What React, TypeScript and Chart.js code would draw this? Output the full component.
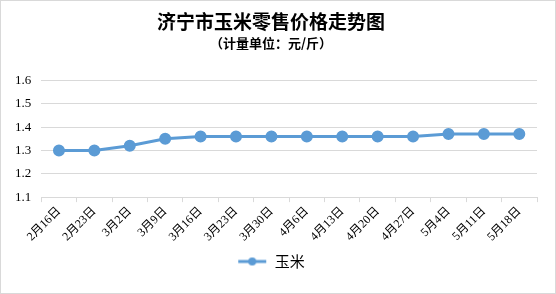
import React, { useEffect, useRef } from "react";
import { Chart, registerables } from "chart.js";

Chart.register(...registerables);

const categories = ["2月16日", "2月23日", "3月2日", "3月9日", "3月16日", "3月23日", "3月30日", "4月6日", "4月13日", "4月20日", "4月27日", "5月4日", "5月11日", "5月18日"];
const cornPrices = [1.30, 1.30, 1.32, 1.35, 1.36, 1.36, 1.36, 1.36, 1.36, 1.36, 1.36, 1.37, 1.37, 1.37];
const seriesName = "玉米";
const titleText = "济宁市玉米零售价格走势图";
const subtitleText = "（计量单位：元/斤）";

const LINE = "#5b9bd5";

function legendIcon(): HTMLCanvasElement {
  const c = document.createElement("canvas");
  c.width = 30;
  c.height = 10;
  const ctx = c.getContext("2d")!;
  ctx.strokeStyle = LINE;
  ctx.lineWidth = 3;
  ctx.beginPath();
  ctx.moveTo(1, 5);
  ctx.lineTo(29, 5);
  ctx.stroke();
  ctx.fillStyle = LINE;
  ctx.beginPath();
  ctx.arc(15, 5, 4, 0, Math.PI * 2);
  ctx.fill();
  return c;
}

export default function App() {
  const ref = useRef<HTMLCanvasElement>(null);
  useEffect(() => {
    document.body.style.margin = "0";
    const icon = legendIcon();
    const serif = "'Liberation Serif', 'Noto Sans CJK SC', serif";
    const chart = new Chart(ref.current!, {
      type: "line",
      data: {
        labels: categories,
        datasets: [
          {
            label: seriesName,
            data: cornPrices,
            borderColor: LINE,
            backgroundColor: LINE,
            borderWidth: 3,
            pointRadius: 4.5,
            pointStyle: "circle",
            pointBackgroundColor: LINE,
            pointBorderColor: LINE,
          },
        ],
      },
      options: {
        animation: false,
        responsive: false,
        maintainAspectRatio: false,
        layout: { padding: { left: 4, right: 18, top: 9, bottom: 14 } },
        plugins: {
          title: {
            display: true,
            text: titleText,
            color: "#000",
            font: { family: "'Noto Sans CJK SC', sans-serif", size: 19, weight: "bold" },
            padding: { top: 0, bottom: 0 },
          },
          subtitle: {
            display: true,
            text: subtitleText,
            color: "#000",
            font: { family: "'Noto Sans CJK SC', sans-serif", size: 13, weight: "bold" },
            padding: { top: 2, bottom: 30 },
          },
          legend: {
            position: "bottom",
            labels: {
              usePointStyle: true,
              pointStyleWidth: 30,
              color: "#000",
              font: { family: "'Noto Sans CJK SC', sans-serif", size: 15 },
              padding: 8,
              generateLabels: () => [
                {
                  text: seriesName,
                  pointStyle: icon,
                  fillStyle: LINE,
                  strokeStyle: LINE,
                  lineWidth: 0,
                  hidden: false,
                  datasetIndex: 0,
                  fontColor: "#000",
                },
              ],
            },
          },
          tooltip: { enabled: false },
        },
        scales: {
          x: {
            offset: true,
            grid: {
              offset: true,
              drawOnChartArea: false,
              drawTicks: true,
              tickLength: 5,
              color: "#d9d9d9",
            },
            border: { color: "#d9d9d9", width: 1 },
            ticks: {
              maxRotation: 45,
              minRotation: 45,
              autoSkip: false,
              color: "#000",
              font: { family: serif, size: 12 },
              padding: 2,
            },
          },
          y: {
            min: 1.1,
            max: 1.6,
            grid: { color: "#d9d9d9", drawTicks: false },
            border: { display: false },
            ticks: {
              stepSize: 0.1,
              color: "#000",
              padding: 10,
              font: { family: serif, size: 13 },
              callback: (v: any) => Number(v).toFixed(1),
            },
          },
        },
      },
    });
    return () => chart.destroy();
  }, []);
  return (
    <div style={{ width: 556, height: 294, boxSizing: "border-box", border: "1px solid #d9d9d9", background: "#fff" }}>
      <canvas ref={ref} width={554} height={292} style={{ display: "block" }} />
    </div>
  );
}
